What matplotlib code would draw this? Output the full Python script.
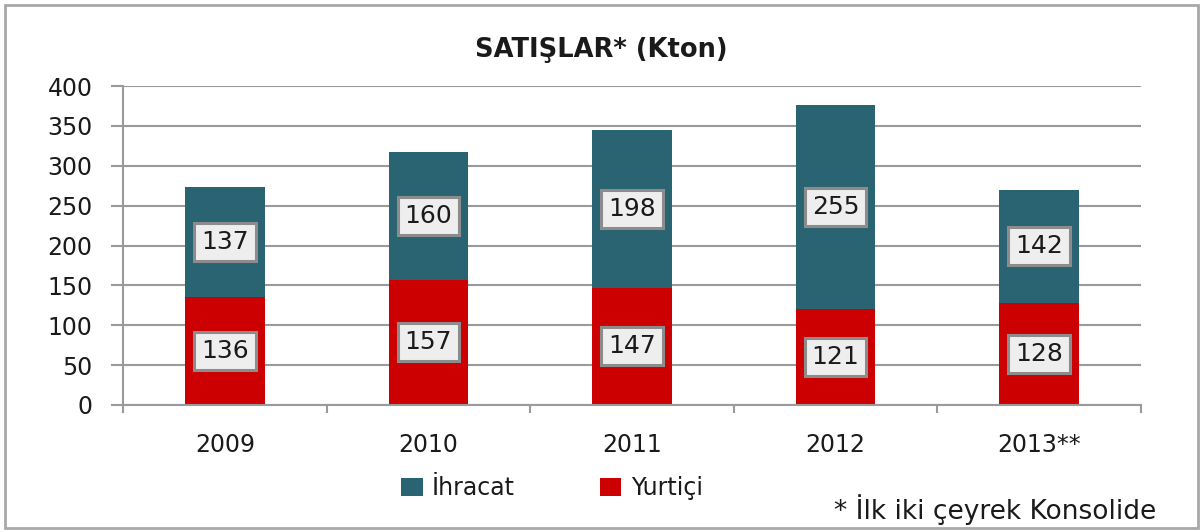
import matplotlib
matplotlib.use("Agg")
import matplotlib.pyplot as plt
from matplotlib.patches import Rectangle

categories = ["2009", "2010", "2011", "2012", "2013**"]
yurtici = [136, 157, 147, 121, 128]
ihracat = [137, 160, 198, 255, 142]
yticks = [0, 50, 100, 150, 200, 250, 300, 350, 400]

TEAL = "#2A6372"
RED = "#CC0000"
GRID = "#9a9a9a"
TXT = "#1a1a1a"
FS = 17

plt.rcParams['font.family'] = ['DejaVu Sans']

fig = plt.figure(figsize=(12.03, 5.32), dpi=100)
ax = fig.add_axes([123/1203, 1-405/532, (1141-123)/1203, (405-86)/532])

x = list(range(len(categories)))
w = 0.39
b1 = ax.bar(x, yurtici, width=w, color=RED, label="Yurtiçi", zorder=2)
b2 = ax.bar(x, ihracat, width=w, bottom=yurtici, color=TEAL, label="İhracat", zorder=2)

box = dict(boxstyle="square,pad=0.28", facecolor="#eeeeee", edgecolor="#8c8c8c", linewidth=2.2)
for xi, y1, y2 in zip(x, yurtici, ihracat):
    ax.text(xi, y1/2, f"{y1}", ha="center", va="center", fontsize=FS+1, color=TXT, bbox=box, zorder=4)
    ax.text(xi, y1 + y2/2, f"{y2}", ha="center", va="center", fontsize=FS+1, color=TXT, bbox=box, zorder=4)

ax.set_xlim(-0.5, len(categories)-0.5)
ax.set_ylim(0, 400)
ax.set_yticks(yticks)
ax.set_yticklabels([str(v) for v in yticks], fontsize=FS, color=TXT)
ax.yaxis.grid(True, color=GRID, linewidth=1.5, zorder=0)
ax.set_axisbelow(True)

ax.set_xticks(x)
ax.set_xticklabels(categories, fontsize=FS, color=TXT)
ax.tick_params(axis='x', length=0, pad=20)
ax.set_xticks([i - 0.5 for i in range(len(categories)+1)], minor=True)
ax.tick_params(axis='x', which='minor', length=6, width=1.5, color=GRID, direction='out')
ax.tick_params(axis='y', length=9, width=1.5, color=GRID, direction='out', pad=13)

for s in ["top", "right"]:
    ax.spines[s].set_visible(False)
for s in ["left", "bottom"]:
    ax.spines[s].set_color(GRID)
    ax.spines[s].set_linewidth(1.5)

fig.text(0.5, 1-50/532, "SATIŞLAR* (Kton)", ha="center", va="center", fontsize=18.5, fontweight="bold", color=TXT)

leg = fig.legend(handles=[b2, b1], labels=["İhracat", "Yurtiçi"], loc="center left",
                 bbox_to_anchor=(380/1203, 1-488/532), ncol=2, frameon=False, fontsize=FS,
                 handlelength=0.9, handleheight=0.8, handletextpad=0.4, columnspacing=3.6)
for t in leg.get_texts():
    t.set_color(TXT)

fig.text(1156/1203, 1-510/532, "* İlk iki çeyrek Konsolide", ha="right", va="center", fontsize=19, color=TXT)

fig.patches.append(Rectangle((5/1203, 4/532), 1193/1203, 523/532, transform=fig.transFigure,
                             fill=False, edgecolor="#a8a8a8", linewidth=2, figure=fig))

fig.savefig("out.png", dpi=100)
